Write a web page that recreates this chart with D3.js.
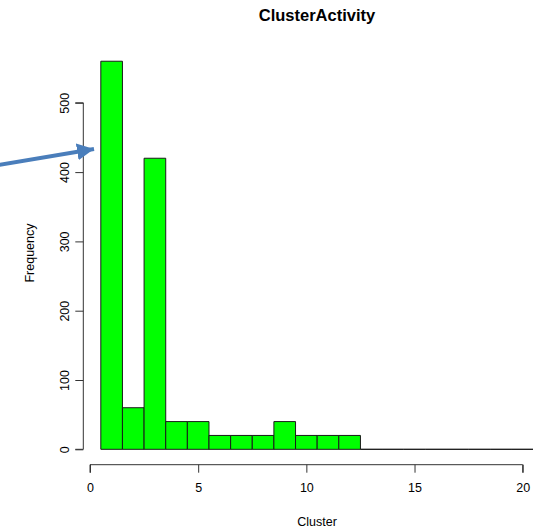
<!DOCTYPE html>
<html>
<head>
<meta charset="utf-8">
<script src="https://cdn.jsdelivr.net/npm/d3@7"></script>
<style>
  html, body { margin: 0; padding: 0; background: #fff; }
  svg { display: block; }
  text { font-family: "Liberation Sans", Arial, Helvetica, sans-serif; fill: #000; }
</style>
</head>
<body>
<svg id="chart" width="533" height="532"></svg>
<script>
// Histogram bins: left edges of unit-wide bins and their counts
const binStarts = [0.5, 1.5, 2.5, 3.5, 4.5, 5.5, 6.5, 7.5, 8.5, 9.5,
                   10.5, 11.5, 12.5, 13.5, 14.5, 15.5, 16.5, 17.5, 18.5, 19.5];
const counts = [560, 60, 420, 40, 40, 20, 20, 20, 40, 20,
                20, 20, 0, 0, 0, 0, 0, 0, 0, 0];
const xTicks = [0, 5, 10, 15, 20];
const yTicks = [0, 100, 200, 300, 400, 500];
const titleText = "ClusterActivity";
const xLabel = "Cluster";
const yLabel = "Frequency";

const svg = d3.select("#chart");

const x = d3.scaleLinear().domain([0, 20]).range([90, 522.7]);
const y = d3.scaleLinear().domain([0, 500]).range([449.3, 102.8]);

const bins = binStarts.map((s, i) => ({ x0: s, x1: s + 1, n: counts[i] }));

// Bars drawn as closed paths so empty bins still show as a flat outline
svg.append("g")
  .selectAll("path")
  .data(bins)
  .join("path")
  .attr("d", d => `M${x(d.x0)},${y(0)}V${y(d.n)}H${x(d.x1)}V${y(0)}Z`)
  .attr("fill", "#00ff00")
  .attr("stroke", "#1a1a1a")
  .attr("stroke-width", 1);

// X axis, offset below the plot as in base graphics
const xAxis = svg.append("g")
  .attr("transform", "translate(0,464.7)")
  .call(d3.axisBottom(x).tickValues(xTicks).tickSize(8).tickPadding(10).tickFormat(d3.format("d")));
xAxis.select(".domain").attr("stroke", "#333").attr("d", `M${x(0)},8V0H${x(20)}V8`);
xAxis.selectAll(".tick line").attr("stroke", "#333");
xAxis.selectAll(".tick text")
  .style("font-size", "12.5px")
  .style("font-family", "'Liberation Sans', Arial, sans-serif");

// Y axis with rotated tick labels
const yAxis = svg.append("g")
  .attr("transform", "translate(83.3,0)")
  .call(d3.axisLeft(y).tickValues(yTicks).tickSize(8).tickFormat(d3.format("d")));
yAxis.select(".domain").attr("stroke", "#333").attr("d", `M-8,${y(0)}H0V${y(500)}H-8`);
yAxis.selectAll(".tick line").attr("stroke", "#333");
yAxis.selectAll(".tick text")
  .attr("x", null).attr("dy", null)
  .attr("text-anchor", "middle")
  .attr("transform", "translate(-19,0) rotate(-90)")
  .attr("dy", "0.35em")
  .style("font-size", "12.5px")
  .style("font-family", "'Liberation Sans', Arial, sans-serif");

// Title and axis labels
svg.append("text")
  .attr("x", 317).attr("y", 20.5)
  .attr("text-anchor", "middle")
  .style("font-size", "16.5px")
  .style("font-weight", "bold")
  .text(titleText);

svg.append("text")
  .attr("x", 317).attr("y", 526)
  .attr("text-anchor", "middle")
  .style("font-size", "12.5px")
  .text(xLabel);

svg.append("text")
  .attr("transform", "translate(33.5,253) rotate(-90)")
  .attr("text-anchor", "middle")
  .style("font-size", "12.5px")
  .text(yLabel);

// Blue callout arrow pointing at the first bar
const defs = svg.append("defs");
defs.append("marker")
  .attr("id", "head")
  .attr("viewBox", "0 0 10 10")
  .attr("refX", 10).attr("refY", 5)
  .attr("markerUnits", "userSpaceOnUse")
  .attr("markerWidth", 17).attr("markerHeight", 17)
  .attr("orient", "auto")
  .append("path")
  .attr("d", "M0,0L10,5L0,10Z")
  .attr("fill", "#4a7ebb");

svg.append("line")
  .attr("x1", -2).attr("y1", 165)
  .attr("x2", 94).attr("y2", 149)
  .attr("stroke", "#4a7ebb")
  .attr("stroke-width", 4)
  .attr("marker-end", "url(#head)");
</script>
</body>
</html>
